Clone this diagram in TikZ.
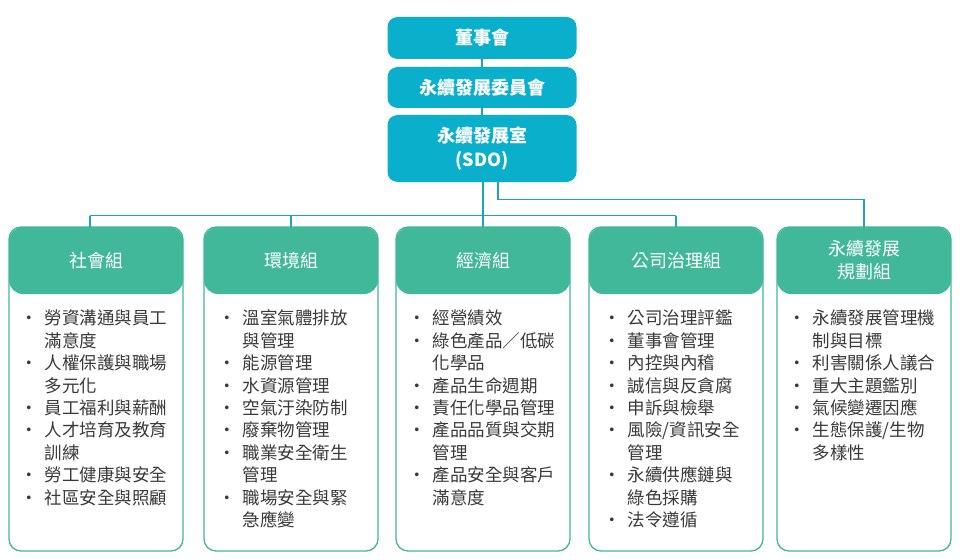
\documentclass[tikz,border=0pt]{standalone}
\usepackage{fontspec}
\setmainfont{Noto Sans CJK TC}
\usepackage{array}
\definecolor{topc}{HTML}{0AAFCC}
\definecolor{grn}{HTML}{42B89B}
\definecolor{conc}{HTML}{1FA3BC}
\definecolor{txt}{HTML}{3A3A3A}
\newcommand{\itm}{\makebox[24.5pt][l]{·}}
\tikzset{
  topbox/.style={fill=topc, rounded corners=10pt, text=white, inner sep=0pt,
    minimum width=189pt, font=\bfseries\fontsize{18}{24}\selectfont, align=center},
  hdr/.style={fill=grn, rounded corners=14pt, text=white, inner sep=0pt,
    minimum width=174pt, minimum height=67pt, font=\fontsize{18}{23}\selectfont, align=center},
  bodybox/.style={draw=grn, line width=1.3pt, rounded corners=12pt, inner sep=0pt,
    minimum width=174pt, minimum height=324pt},
  listtxt/.style={anchor=north west, inner sep=0pt, text=txt, font=\fontsize{17.5}{22.4}\selectfont},
  conn/.style={draw=conc, line width=1.2pt}
}
\begin{document}
\begin{tikzpicture}[x=1pt,y=-1pt]
\useasboundingbox (0,0) rectangle (960,559);
\fill[white] (0,0) rectangle (960,559);
% top boxes
\node[topbox, minimum height=42pt] (board) at (482,38) {董事會};
\node[topbox, minimum height=41pt] (comm) at (482,87.5) {永續發展委員會};
\node[topbox, minimum height=67pt] (sdo) at (482,148.5) {永續發展室\\(SDO)};
% group boxes
\foreach \n/\l in {1/9,2/204,3/396,4/589,5/777}{
  \node[bodybox] (b\n) at (\l+87,389) {};
}
\node[hdr] (h1) at (96,260.5) {社會組};
\node[hdr] (h2) at (291,260.5) {環境組};
\node[hdr] (h3) at (483,260.5) {經濟組};
\node[hdr] (h4) at (676,260.5) {公司治理組};
\node[hdr] (h5) at (864,260.5) {永續發展\\規劃組};
% lists
\node[listtxt] (t1) at (20,309) {\begin{tabular}{@{}l@{}l@{}}
\itm&勞資溝通與員工\\ &滿意度\\ \itm&人權保護與職場\\ &多元化\\ \itm&員工福利與薪酬\\
\itm&人才培育及教育\\ &訓練\\ \itm&勞工健康與安全\\ \itm&社區安全與照顧
\end{tabular}};
\node[listtxt] (t2) at (218,309) {\begin{tabular}{@{}l@{}l@{}}
\itm&溫室氣體排放\\ &與管理\\ \itm&能源管理\\ \itm&水資源管理\\ \itm&空氣汙染防制\\
\itm&廢棄物管理\\ \itm&職業安全衛生\\ &管理\\ \itm&職場安全與緊\\ &急應變
\end{tabular}};
\node[listtxt] (t3) at (408,309) {\begin{tabular}{@{}l@{}l@{}}
\itm&經營績效\\ \itm&綠色產品／低碳\\ &化學品\\ \itm&產品生命週期\\ \itm&責任化學品管理\\
\itm&產品品質與交期\\ &管理\\ \itm&產品安全與客戶\\ &滿意度
\end{tabular}};
\node[listtxt] (t4) at (603,309) {\begin{tabular}{@{}l@{}l@{}}
\itm&公司治理評鑑\\ \itm&董事會管理\\ \itm&內控與內稽\\ \itm&誠信與反貪腐\\ \itm&申訴與檢舉\\
\itm&風險/資訊安全\\ &管理\\ \itm&永續供應鏈與\\ &綠色採購\\ \itm&法令遵循
\end{tabular}};
\node[listtxt] (t5) at (788,309) {\begin{tabular}{@{}l@{}l@{}}
\itm&永續發展管理機\\ &制與目標\\ \itm&利害關係人議合\\ \itm&重大主題鑑別\\ \itm&氣候變遷因應\\
\itm&生態保護/生物\\ &多樣性
\end{tabular}};
% connectors
\coordinate (busL) at (90,215.7);
\coordinate (busR) at (676,215.7);
\coordinate (k) at (498,199.3);
\draw[conn] (board.south -| sdo.south) -- (comm.north);
\draw[conn] (comm.south) -- (sdo.north);
\draw[conn] (sdo.south -| h3.north) -- (h3.north);
\draw[conn] (busL) -- (busR);
\draw[conn] (busL) -- (busL |- h1.north);
\draw[conn] (h2.north |- busL) -- (h2.north);
\draw[conn] (busR) -- (h4.north);
\draw[conn] (sdo.south -| k) |- (h5.north |- k) -- (h5.north);
\end{tikzpicture}
\end{document}
